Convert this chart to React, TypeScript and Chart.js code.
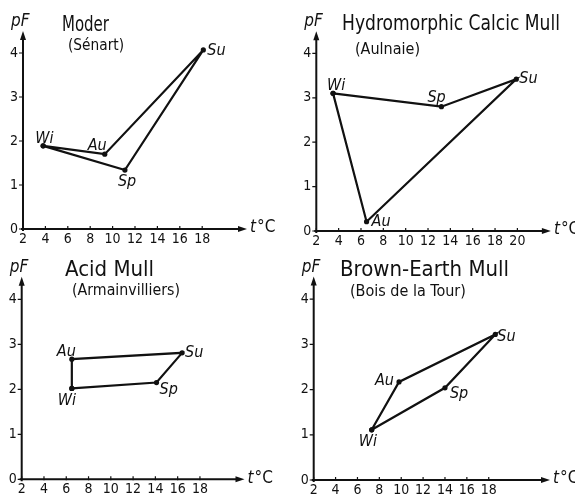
import React, { useEffect, useRef } from "react";
import { Chart, registerables } from "chart.js";

Chart.register(...registerables);

// ---------- data ----------
const seasons = ["Wi", "Sp", "Su", "Au"];
const yTicks = [0, 1, 2, 3, 4];
const xTicks18 = [2, 4, 6, 8, 10, 12, 14, 16, 18];
const xTicks20 = [2, 4, 6, 8, 10, 12, 14, 16, 18, 20];

// Moder (Sénart)
const moderTemp = [3.8, 11.1, 18.1, 9.3];
const moderPF = [1.89, 1.34, 4.07, 1.7];
// Hydromorphic Calcic Mull (Aulnaie)
const hydroTemp = [3.5, 13.2, 19.9, 6.5];
const hydroPF = [3.1, 2.8, 3.42, 0.21];
// Acid Mull (Armainvilliers)
const acidTemp = [6.5, 14.1, 16.4, 6.5];
const acidPF = [2.02, 2.15, 2.81, 2.67];
// Brown-Earth Mull (Bois de la Tour)
const brownTemp = [7.3, 14.0, 18.6, 9.8];
const brownPF = [1.11, 2.04, 3.22, 2.17];

const FONT = '"DejaVu Sans Condensed", "Liberation Sans Narrow", "DejaVu Sans", sans-serif';

type LabelPos = Record<string, [number, number]>;

interface PanelCfg {
  left: number;
  top: number;
  width: number;
  height: number;
  padding: { left: number; right: number; top: number; bottom: number };
  xMax: number;
  xTicks: number[];
  temps: number[];
  pfs: number[];
  title: string;
  subtitle: string;
  titlePos: [number, number, number];
  subPos: [number, number, number];
  labelPos: LabelPos;
}

const panels: PanelCfg[] = [
  {
    left: 0, top: 0, width: 287, height: 245,
    padding: { left: 23, right: 40, top: 31, bottom: 16 },
    xMax: 22, xTicks: xTicks18, temps: moderTemp, pfs: moderPF,
    title: "Moder", subtitle: "(Sénart)",
    titlePos: [62, 31, 47], subPos: [68, 50, 56],
    labelPos: { Wi: [-8, -3], Sp: [-7, 16], Su: [4, 5], Au: [-17, -4] },
  },
  {
    left: 287, top: 0, width: 288, height: 245,
    padding: { left: 29.3, right: 24.1, top: 31.2, bottom: 14 },
    xMax: 23, xTicks: xTicks20, temps: hydroTemp, pfs: hydroPF,
    title: "Hydromorphic Calcic Mull", subtitle: "(Aulnaie)",
    titlePos: [55, 30, 218], subPos: [68, 54, 66],
    labelPos: { Wi: [-6, -3], Sp: [-14, -5], Su: [3, 4], Au: [5, 4] },
  },
  {
    left: 0, top: 245, width: 287, height: 249,
    padding: { left: 21.7, right: 42.5, top: 31.8, bottom: 14.7 },
    xMax: 22, xTicks: xTicks18, temps: acidTemp, pfs: acidPF,
    title: "Acid Mull", subtitle: "(Armainvilliers)",
    titlePos: [65, 31, 90], subPos: [72, 50, 108],
    labelPos: { Wi: [-14, 17], Sp: [3, 11], Su: [3, 4], Au: [-15, -3] },
  },
  {
    left: 287, top: 245, width: 288, height: 249,
    padding: { left: 26.7, right: 25, top: 31.6, bottom: 14 },
    xMax: 23.6, xTicks: xTicks18, temps: brownTemp, pfs: brownPF,
    title: "Brown-Earth Mull", subtitle: "(Bois de la Tour)",
    titlePos: [53, 31, 169], subPos: [63, 51, 122],
    labelPos: { Wi: [-13, 16], Sp: [5, 10], Su: [2, 7], Au: [-24, 3] },
  },
];

const axesPlugin = {
  id: "soilAxes",
  afterDraw(chart: any) {
    const cfg: PanelCfg = chart.options.plugins.soilAxes.cfg;
    const ctx: CanvasRenderingContext2D = chart.ctx;
    const sx = chart.scales.x;
    const sy = chart.scales.y;
    const x0 = sx.getPixelForValue(2);
    const y0 = sy.getPixelForValue(0);
    const xEnd = sx.getPixelForValue(cfg.xMax);
    const yEnd = sy.getPixelForValue(4.5);
    ctx.save();
    ctx.strokeStyle = "#111";
    ctx.fillStyle = "#111";
    ctx.lineWidth = 2;
    // axes lines
    ctx.beginPath();
    ctx.moveTo(x0, y0 + 2);
    ctx.lineTo(x0, yEnd + 6);
    ctx.moveTo(x0 - 2, y0);
    ctx.lineTo(xEnd - 6, y0);
    ctx.stroke();
    // arrow heads
    ctx.beginPath();
    ctx.moveTo(x0, yEnd);
    ctx.lineTo(x0 - 3, yEnd + 9);
    ctx.lineTo(x0 + 3, yEnd + 9);
    ctx.closePath();
    ctx.fill();
    ctx.beginPath();
    ctx.moveTo(xEnd, y0);
    ctx.lineTo(xEnd - 9, y0 - 3);
    ctx.lineTo(xEnd - 9, y0 + 3);
    ctx.closePath();
    ctx.fill();
    // ticks
    ctx.lineWidth = 1.2;
    ctx.beginPath();
    cfg.xTicks.forEach((t) => {
      const px = sx.getPixelForValue(t);
      ctx.moveTo(px, y0 - 3);
      ctx.lineTo(px, y0 + 1);
    });
    yTicks.forEach((t) => {
      const py = sy.getPixelForValue(t);
      ctx.moveTo(x0 - 4, py);
      ctx.lineTo(x0, py);
    });
    ctx.stroke();
    // tick labels
    ctx.font = `14px ${FONT}`;
    ctx.textAlign = "center";
    ctx.textBaseline = "top";
    cfg.xTicks.forEach((t) => {
      const px = sx.getPixelForValue(t);
      ctx.fillText(String(t), px, y0 + 3);
    });
    ctx.textAlign = "right";
    ctx.textBaseline = "middle";
    yTicks.forEach((t) => {
      const py = sy.getPixelForValue(t);
      ctx.fillText(String(t), x0 - 5, py);
    });
    // axis titles
    ctx.textAlign = "left";
    ctx.textBaseline = "alphabetic";
    ctx.font = `italic 17px ${FONT}`;
    ctx.fillText("p", x0 - 12, yEnd - 5);
    const pw = ctx.measureText("p").width;
    ctx.fillText("F", x0 - 12 + pw, yEnd - 5);
    ctx.textBaseline = "middle";
    ctx.font = `italic 17px ${FONT}`;
    ctx.fillText("t", xEnd + 3, y0 - 1);
    const tw = ctx.measureText("t").width;
    ctx.font = `17px ${FONT}`;
    ctx.fillText("°C", xEnd + 4 + tw, y0 - 1);
    // titles
    ctx.textBaseline = "alphabetic";
    ctx.font = `22px ${FONT}`;
    ctx.fillText(cfg.title, cfg.titlePos[0], cfg.titlePos[1], cfg.titlePos[2]);
    ctx.font = `16px ${FONT}`;
    ctx.fillText(cfg.subtitle, cfg.subPos[0], cfg.subPos[1], cfg.subPos[2]);
    // point labels
    ctx.font = `italic 16px ${FONT}`;
    const meta = chart.getDatasetMeta(0);
    seasons.forEach((s, i) => {
      const el = meta.data[i];
      const off = cfg.labelPos[s];
      ctx.fillText(s, el.x + off[0], el.y + off[1]);
    });
    ctx.restore();
  },
};

function Panel({ cfg }: { cfg: PanelCfg }) {
  const ref = useRef<HTMLCanvasElement | null>(null);
  useEffect(() => {
    if (!ref.current) return;
    const pts = cfg.temps.map((t, i) => ({ x: t, y: cfg.pfs[i] }));
    const data = [...pts, pts[0]];
    const chart = new Chart(ref.current, {
      type: "scatter",
      data: {
        datasets: [
          {
            data,
            showLine: true,
            borderColor: "#111",
            backgroundColor: "#111",
            borderWidth: 2.2,
            pointRadius: 2.6,
            pointBorderWidth: 0,
            tension: 0,
          },
        ],
      },
      options: {
        animation: false,
        responsive: false,
        events: [],
        layout: { padding: cfg.padding },
        scales: {
          x: { type: "linear", min: 2, max: cfg.xMax, display: false },
          y: { type: "linear", min: 0, max: 4.5, display: false },
        },
        plugins: {
          legend: { display: false },
          tooltip: { enabled: false },
          title: { display: false },
          soilAxes: { cfg },
        } as any,
      },
      plugins: [axesPlugin],
    });
    return () => chart.destroy();
  }, [cfg]);
  return (
    <canvas
      ref={ref}
      width={cfg.width}
      height={cfg.height}
      style={{ position: "absolute", left: cfg.left, top: cfg.top, width: cfg.width, height: cfg.height }}
    />
  );
}

export default function App() {
  return (
    <div style={{ position: "absolute", left: 0, top: 0, width: 575, height: 494, background: "#fff", overflow: "hidden" }}>
      {panels.map((p, i) => (
        <Panel key={i} cfg={p} />
      ))}
    </div>
  );
}
